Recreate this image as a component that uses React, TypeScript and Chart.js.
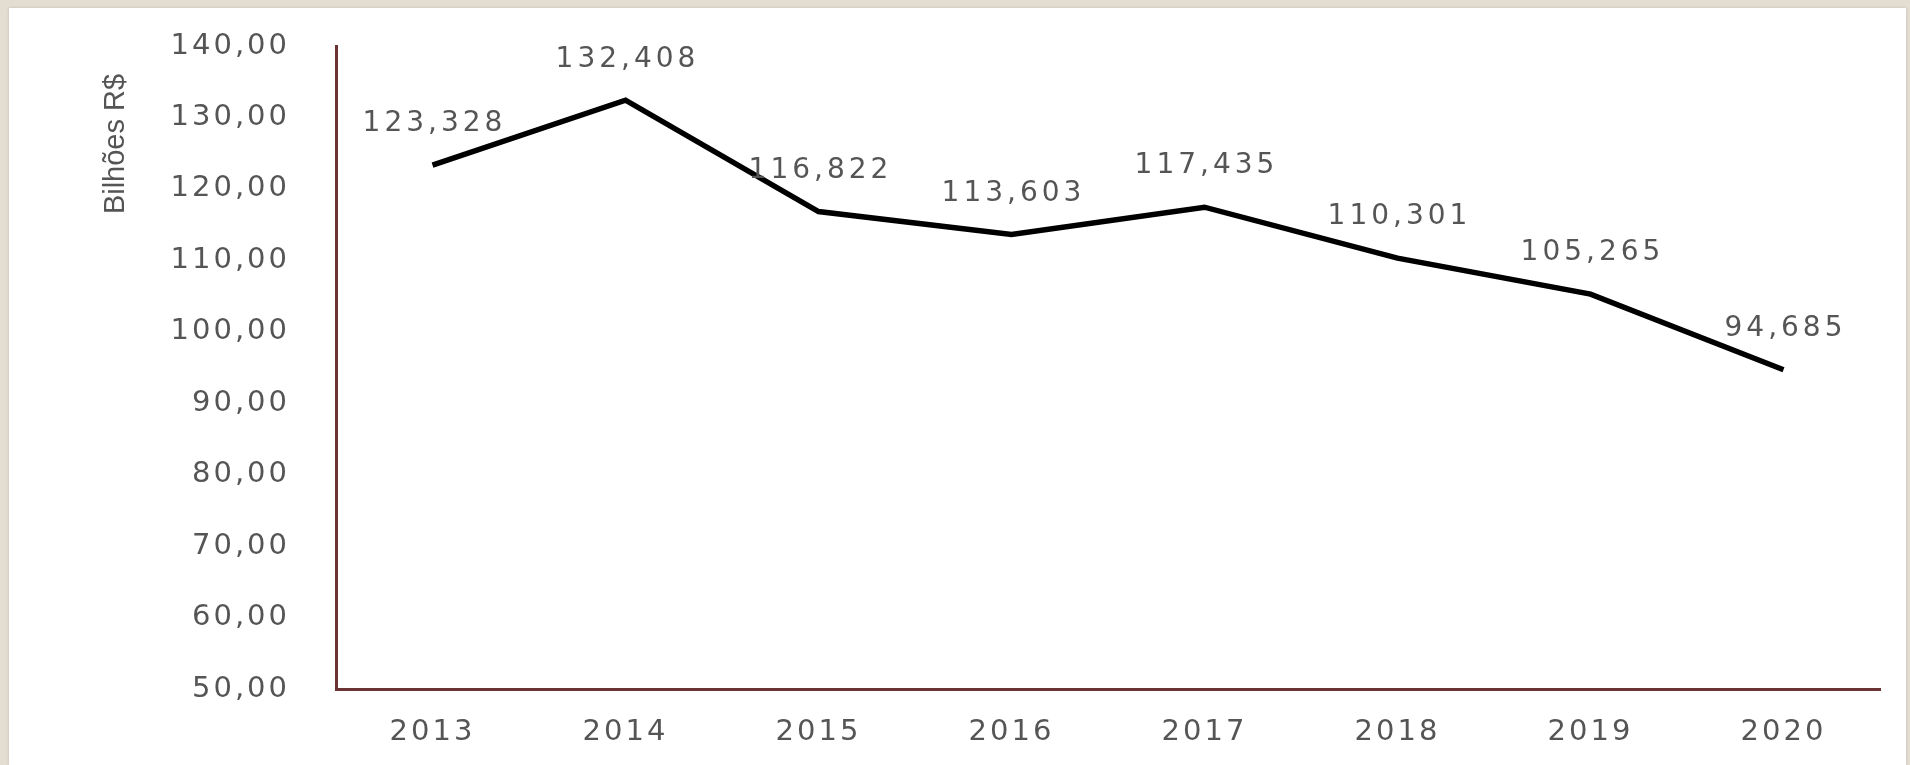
import React, { useEffect, useRef } from "react";
import { Chart, registerables } from "chart.js";

Chart.register(...registerables);

const categories = ["2013", "2014", "2015", "2016", "2017", "2018", "2019", "2020"];
const values = [123.328, 132.408, 116.822, 113.603, 117.435, 110.301, 105.265, 94.685];
const yMin = 50;
const yMax = 140;
const yStep = 10;
const axisTitle = "Bilhões R$";

const GRAY = "#555555";
const AXIS = "#6b3434";

const fmtTick = (v: number) => v.toFixed(2).replace(".", ",");
const fmtLabel = (v: number) => v.toFixed(3).replace(".", ",");

const overlay = {
  id: "overlay",
  beforeDraw(chart: any) {
    (chart.ctx as any).letterSpacing = "3px";
  },
  afterDatasetsDraw(chart: any) {
    const ctx = chart.ctx as any;
    const meta = chart.getDatasetMeta(0);
    ctx.save();
    ctx.font = '28px "DejaVu Sans"';
    ctx.letterSpacing = "4px";
    ctx.fillStyle = GRAY;
    ctx.textAlign = "center";
    ctx.textBaseline = "middle";
    meta.data.forEach((pt: any, i: number) => {
      ctx.fillText(fmtLabel(values[i]), pt.x + 2, pt.y - 41);
    });
    ctx.restore();

    // axis title
    ctx.save();
    ctx.font = '29px "Liberation Sans"';
    ctx.letterSpacing = "0px";
    ctx.fillStyle = GRAY;
    ctx.textAlign = "center";
    ctx.textBaseline = "middle";
    ctx.translate(116, chart.chartArea.top + 98);
    ctx.rotate(-Math.PI / 2);
    ctx.fillText(axisTitle, 0, 0);
    ctx.restore();
  },
};

export default function App() {
  const ref = useRef<HTMLCanvasElement | null>(null);
  useEffect(() => {
    if (!ref.current) return;
    const chart = new Chart(ref.current, {
      type: "line",
      data: {
        labels: categories,
        datasets: [
          {
            data: values,
            borderColor: "#000000",
            borderWidth: 5.5,
            pointRadius: 0,
            tension: 0,
            fill: false,
            borderJoinStyle: "miter",
          } as any,
        ],
      },
      options: {
        responsive: false,
        animation: false,
        devicePixelRatio: 1,
        layout: { padding: { top: 46, right: 30, left: 0, bottom: 0 } },
        plugins: { legend: { display: false }, tooltip: { enabled: false }, title: { display: false } },
        scales: {
          x: {
            offset: true,
            grid: { display: false, drawTicks: false },
            border: { display: true, color: AXIS, width: 3 },
            ticks: {
              color: GRAY,
              font: { family: "DejaVu Sans", size: 29 },
              padding: 26,
              maxRotation: 0,
            },
            afterFit: (s: any) => {
              s.height = 76;
              s.paddingLeft = 0;
              s.paddingRight = 0;
            },
          },
          y: {
            min: yMin,
            max: yMax,
            grid: { display: false, drawTicks: false },
            border: { display: true, color: AXIS, width: 3 },
            ticks: {
              stepSize: yStep,
              color: GRAY,
              font: { family: "DejaVu Sans", size: 29 },
              padding: 46,
              callback: (v: any) => fmtTick(Number(v)),
            },
            afterFit: (s: any) => {
              s.width = 336;
              s.paddingTop = 0;
              s.paddingBottom = 0;
            },
          },
        },
      },
      plugins: [overlay],
    });
    return () => chart.destroy();
  }, []);

  return (
    <div style={{ position: "fixed", left: 0, top: 0, width: 1910, height: 765, background: "#e4ddd2", overflow: "hidden" }}>
      <div
        style={{
          position: "absolute",
          left: 9,
          top: 8,
          right: 4,
          bottom: 0,
          background: "#ffffff",
          boxShadow: "0 0 3px rgba(0,0,0,0.15)",
        }}
      />
      <canvas ref={ref} width={1910} height={765} style={{ position: "absolute", left: 0, top: 0 }} />
    </div>
  );
}
